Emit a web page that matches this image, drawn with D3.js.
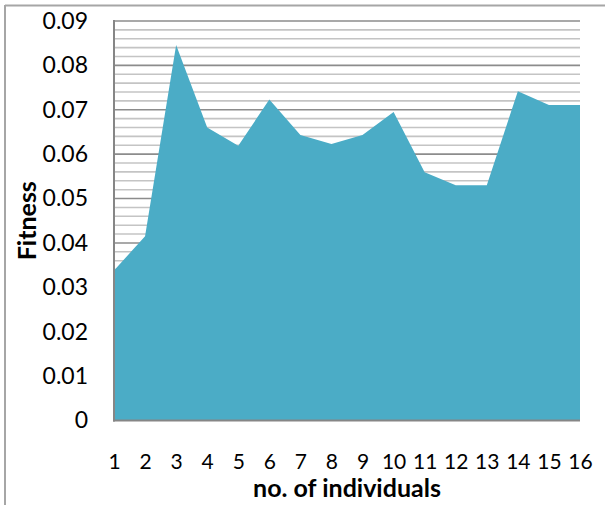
<!DOCTYPE html>
<html>
<head>
<meta charset="utf-8">
<script src="https://cdn.jsdelivr.net/npm/d3@7"></script>
<style>
  html, body { margin: 0; padding: 0; background: #fff; }
  svg { display: block; }
</style>
</head>
<body>
<svg id="chart" width="605" height="505"></svg>
<script>
// Fitness of each individual
const individuals = [1, 2, 3, 4, 5, 6, 7, 8, 9, 10, 11, 12, 13, 14, 15, 16];
const fitness = [0.0338, 0.0415, 0.0846, 0.0660, 0.0619, 0.0723, 0.0643, 0.0623,
                 0.0643, 0.0695, 0.0559, 0.0530, 0.0530, 0.0742, 0.0711, 0.0711];
const yTicks = [0, 0.01, 0.02, 0.03, 0.04, 0.05, 0.06, 0.07, 0.08, 0.09];
const yMinorTicks = d3.range(0, 0.0901, 0.002);

const svg = d3.select("#chart");
const font = "Lato, 'Open Sans', sans-serif";

const plot = { left: 114, right: 580, top: 21, bottom: 420.5 };

const x = d3.scalePoint().domain(individuals).range([plot.left, plot.right]);
const y = d3.scaleLinear().domain([0, 0.09]).range([plot.bottom, plot.top]);

// outer chart frame (top and left edges visible)
svg.append("line").attr("x1", 5).attr("x2", 605).attr("y1", 5.5).attr("y2", 5.5)
  .attr("stroke", "#a6a6a6").attr("stroke-width", 2);
svg.append("line").attr("x1", 5).attr("x2", 5).attr("y1", 5).attr("y2", 505)
  .attr("stroke", "#a6a6a6").attr("stroke-width", 2);

// minor gridlines
svg.append("g").selectAll("line")
  .data(yMinorTicks.filter(v => Math.abs(v / 0.01 - Math.round(v / 0.01)) > 1e-6))
  .join("line")
  .attr("x1", plot.left).attr("x2", plot.right)
  .attr("y1", d => y(d)).attr("y2", d => y(d))
  .attr("stroke", "#c4c4c4").attr("stroke-width", 1.6);

// major gridlines
svg.append("g").selectAll("line")
  .data(yTicks.filter(v => v > 0))
  .join("line")
  .attr("x1", plot.left).attr("x2", plot.right)
  .attr("y1", d => y(d)).attr("y2", d => y(d))
  .attr("stroke", "#8c8c8c").attr("stroke-width", 1.6);

// area
const area = d3.area()
  .x((d, i) => x(individuals[i]))
  .y0(y(0))
  .y1(d => y(d));
svg.append("path")
  .datum(fitness)
  .attr("d", area)
  .attr("fill", "#4bacc6");

// axis lines
svg.append("line").attr("x1", plot.left).attr("x2", plot.left)
  .attr("y1", plot.top - 1).attr("y2", plot.bottom + 1)
  .attr("stroke", "#868686").attr("stroke-width", 2);
svg.append("line").attr("x1", plot.left - 1).attr("x2", plot.right)
  .attr("y1", plot.bottom).attr("y2", plot.bottom)
  .attr("stroke", "#868686").attr("stroke-width", 2);

// y axis labels
const yAxis = d3.axisLeft(y).tickValues(yTicks).tickSize(0).tickPadding(26)
  .tickFormat(d => d === 0 ? "0" : d3.format(".2f")(d));
const gy = svg.append("g").attr("transform", `translate(${plot.left},0)`).call(yAxis);
gy.select(".domain").remove();
gy.selectAll("text").attr("font-family", font).attr("font-size", 23).attr("fill", "#000");

// x axis labels
const xAxis = d3.axisBottom(x).tickSize(0).tickPadding(34);
const gx = svg.append("g").attr("transform", `translate(0,${plot.bottom})`).call(xAxis);
gx.select(".domain").remove();
gx.selectAll("text").attr("font-family", font).attr("font-size", 21).attr("fill", "#000");

// axis titles
svg.append("text")
  .attr("x", (plot.left + plot.right) / 2).attr("y", 497)
  .attr("text-anchor", "middle")
  .attr("font-family", font).attr("font-weight", "bold").attr("font-size", 25)
  .text("no. of individuals");

svg.append("text")
  .attr("transform", `translate(36,${(plot.top + plot.bottom) / 2}) rotate(-90)`)
  .attr("text-anchor", "middle")
  .attr("font-family", font).attr("font-weight", "bold").attr("font-size", 25)
  .text("Fitness");
</script>
</body>
</html>
